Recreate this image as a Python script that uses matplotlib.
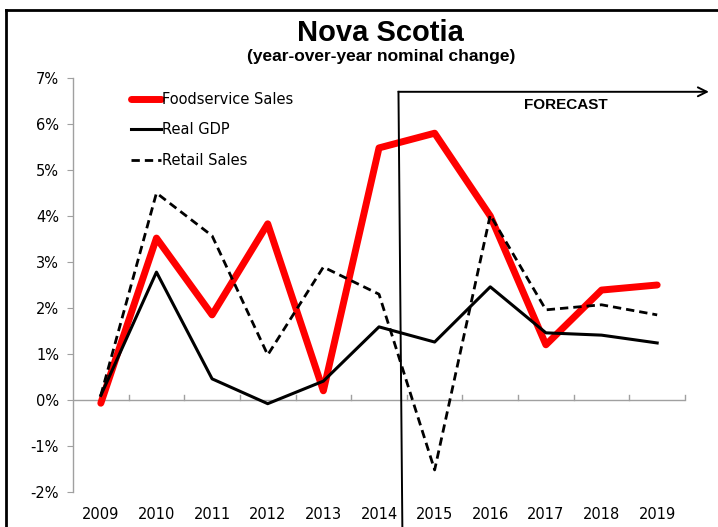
import matplotlib
matplotlib.use("Agg")
import matplotlib.pyplot as plt
from matplotlib.lines import Line2D
from matplotlib.ticker import FixedLocator, FuncFormatter

years = ["2009", "2010", "2011", "2012", "2013", "2014",
         "2015", "2016", "2017", "2018", "2019"]
foodservice = [-0.07, 3.52, 1.85, 3.83, 0.20, 5.48, 5.80, 4.00, 1.20, 2.39, 2.50]
real_gdp = [0.10, 2.78, 0.46, -0.08, 0.41, 1.59, 1.26, 2.46, 1.46, 1.41, 1.24]
retail = [0.10, 4.50, 3.57, 0.98, 2.89, 2.30, -1.52, 4.02, 1.96, 2.07, 1.85]
y_ticks = [-2, -1, 0, 1, 2, 3, 4, 5, 6, 7]

W, H = 718, 527
fig = plt.figure(figsize=(W / 100, H / 100), dpi=100)
ax = fig.add_axes([73 / W, (H - 492) / H, 612 / W, 414 / H])

x = list(range(len(years)))
ax.plot(x, foodservice, color="#ff0000", lw=5.0, solid_capstyle="round",
        label="Foodservice Sales", zorder=3)
ax.plot(x, real_gdp, color="black", lw=2.2, label="Real GDP", zorder=4)
ax.plot(x, retail, color="black", lw=2.0, dashes=(3.0, 1.8),
        label="Retail Sales", zorder=4)

ax.set_xlim(-0.5, len(years) - 0.5)
ax.set_ylim(-2, 7)

for s in ["top", "right", "bottom"]:
    ax.spines[s].set_visible(False)
ax.spines["left"].set_color("#a0a0a0")
ax.spines["left"].set_linewidth(1.0)
ax.axhline(0, color="#a0a0a0", lw=1.0, zorder=1)

ax.yaxis.set_major_locator(FixedLocator(y_ticks))
ax.yaxis.set_major_formatter(FuncFormatter(lambda v, p: f"{int(v)}%"))
ax.tick_params(axis="y", length=4, color="#a0a0a0", labelsize=10.5, pad=6)

ax.set_xticks(x)
ax.set_xticklabels(years)
ax.tick_params(axis="x", which="major", length=0, labelsize=10.5, pad=11)

# category boundary ticks on the zero line
for b in [i + 0.5 for i in range(len(years))]:
    ax.plot([b, b], [0, 0.11], color="#a0a0a0", lw=1.0, zorder=1, clip_on=False)

leg = ax.legend(loc="upper left", bbox_to_anchor=(0.085, 0.98), frameon=False,
                fontsize=10.5, handlelength=2.1, handletextpad=0.05,
                labelspacing=1.05, borderaxespad=0)

# forecast marker
fx_top, fx_bot = 5.35, 5.42
ax.plot([fx_top, fx_bot], [6.70, -2.8], color="black", lw=1.4,
        clip_on=False, zorder=5)
ax.annotate("", xy=(10.93, 6.70), xytext=(fx_top, 6.70),
            arrowprops=dict(arrowstyle="->", color="black", lw=1.4,
                            mutation_scale=16, shrinkA=0, shrinkB=0),
            annotation_clip=False)
ax.text(8.36, 6.41, "FORECAST", fontsize=11, fontweight="bold",
        family="Liberation Sans", ha="center", va="center")

fig.text(380 / W, 1 - 33 / H, "Nova Scotia", fontsize=21, fontweight="bold",
         family="Liberation Sans", ha="center", va="center")
fig.text(381 / W, 1 - 57 / H, "(year-over-year nominal change)", fontsize=12.5,
         fontweight="bold", family="Liberation Sans", ha="center", va="center")

# outer frame
fig.add_artist(Line2D([6 / W, 6 / W], [0, 1 - 10 / H], color="black", lw=2.0,
                      transform=fig.transFigure))
fig.add_artist(Line2D([6 / W, 1], [1 - 10 / H, 1 - 10 / H], color="black",
                      lw=2.0, transform=fig.transFigure))

fig.savefig("out.png", dpi=100)
